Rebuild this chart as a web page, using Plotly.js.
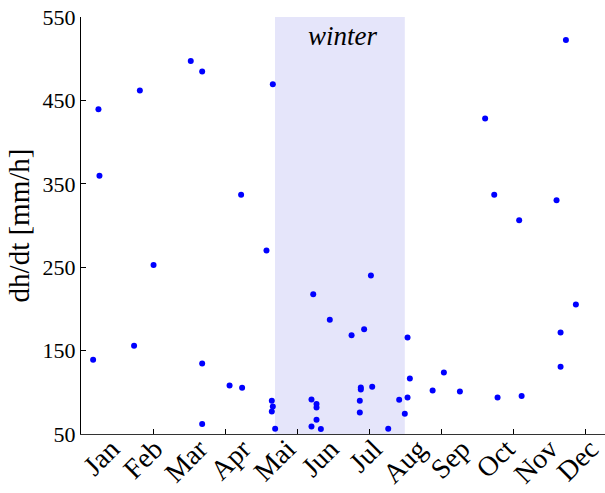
<!DOCTYPE html>
<html>
<head>
<meta charset="utf-8">
<script src="https://cdn.plot.ly/plotly-3.0.1.min.js"></script>
<style>html,body{margin:0;padding:0;background:#fff;}#chart{width:605px;height:493px;}</style>
</head>
<body>
<div id="chart"></div>
<script>
// day of year of each event
const dayOfYear = [8.4, 12.1, 12.8, 36.8, 40.8, 50.3, 76.1, 84.0, 84.0, 84.0, 103.0, 111.0, 111.7,
  128.6, 132.3, 133.0, 132.3, 133.0, 134.6, 159.8, 159.8, 161.0, 163.3, 163.3, 163.3, 166.3,
  172.5, 187.6, 193.3, 193.3, 194.0, 194.0, 196.3, 201.0, 201.9, 213.0, 220.6, 224.5, 226.4,
  226.4, 228.0, 243.8, 251.6, 262.7, 280.2, 286.5, 288.8, 303.8, 305.5, 329.7, 332.5, 332.5,
  336.2, 343.1];
// dh/dt values [mm/h]
const dhdt = [139, 439.5, 359.6, 155.7, 461.9, 252.7, 497.3, 484.6, 134.5, 62.0, 108.2, 336.9, 105.4,
  270, 89.9, 83.0, 77.1, 469.4, 56.3, 91.4, 59.1, 217.6, 85.9, 81.8, 67.1, 56.0,
  186.9, 168.5, 89.9, 75.9, 105.8, 103.4, 175.7, 239.9, 106.6, 56.3, 91.1, 74.3, 165.7,
  93.8, 116.6, 102.2, 123.8, 101.0, 428.3, 336.9, 93.8, 306.2, 95.5, 330.2, 171.6, 130.6,
  522.5, 205.2];
const monthLabels = ['Jan','Feb','Mar','Apr','Mai','Jun','Jul','Aug','Sep','Oct','Nov','Dec'];
const monthLabelPos = [21, 51, 82, 112, 143, 173, 203, 234, 264, 295, 325, 353];
const dayTicks = [0, 50, 100, 150, 200, 250, 300, 350];
const yTicks = [50, 150, 250, 350, 450, 550];
const winterStart = 134.5, winterEnd = 224.5;
const xRange = [0, 363.3];

const serif = 'Liberation Serif, Times New Roman, serif';

const traces = [
  {x: dayOfYear, y: dhdt, type: 'scatter', mode: 'markers', xaxis: 'x', yaxis: 'y',
   marker: {color: '#0000ff', size: 6}, hoverinfo: 'x+y', showlegend: false},
  {x: [xRange[0], xRange[1]], y: [null, null], type: 'scatter', mode: 'markers', xaxis: 'x2', yaxis: 'y',
   showlegend: false, hoverinfo: 'skip'}
];

const layout = {
  width: 605, height: 493,
  margin: {l: 81, r: 0, t: 17, b: 59},
  paper_bgcolor: '#fff', plot_bgcolor: 'rgba(0,0,0,0)',
  showlegend: false,
  font: {family: serif, size: 22, color: '#000'},
  xaxis: {
    range: xRange, tickvals: dayTicks, showticklabels: false,
    ticks: 'inside', ticklen: 5, tickcolor: '#000', tickwidth: 1,
    showline: true, linecolor: '#333', linewidth: 1, showgrid: false, zeroline: false
  },
  xaxis2: {
    overlaying: 'x', matches: 'x', range: xRange, side: 'bottom',
    tickvals: monthLabelPos, ticktext: monthLabels, tickangle: -45,
    ticks: '', showline: false, showgrid: false, zeroline: false, ticklabelstandoff: -8,
    ticklabeloverflow: 'allow',
    tickfont: {family: serif, size: 28, color: '#000'}
  },
  yaxis: {
    range: [50, 550], tickvals: yTicks, ticks: 'inside', ticklen: 5, tickcolor: '#000',
    showline: true, linecolor: '#000', linewidth: 1, showgrid: false, zeroline: false,
    tickfont: {family: serif, size: 22, color: '#000'}, ticklabelstandoff: 0,
    title: {text: 'dh/dt [mm/h]', font: {family: serif, size: 29, color: '#000'}, standoff: 4}
  },
  shapes: [{type: 'rect', xref: 'x', yref: 'y', x0: winterStart, x1: winterEnd, y0: 50, y1: 550,
    fillcolor: 'rgb(229,229,250)', line: {width: 0}, layer: 'below'}],
  annotations: [{xref: 'x', yref: 'paper', x: (winterStart + winterEnd) / 2, y: 1, yanchor: 'top',
    xshift: 3, yshift: -2, text: '<i>winter</i>', showarrow: false,
    font: {family: serif, size: 27, color: '#000'}}]
};

Plotly.newPlot('chart', traces, layout, {displayModeBar: false, staticPlot: true});
</script>
</body>
</html>
